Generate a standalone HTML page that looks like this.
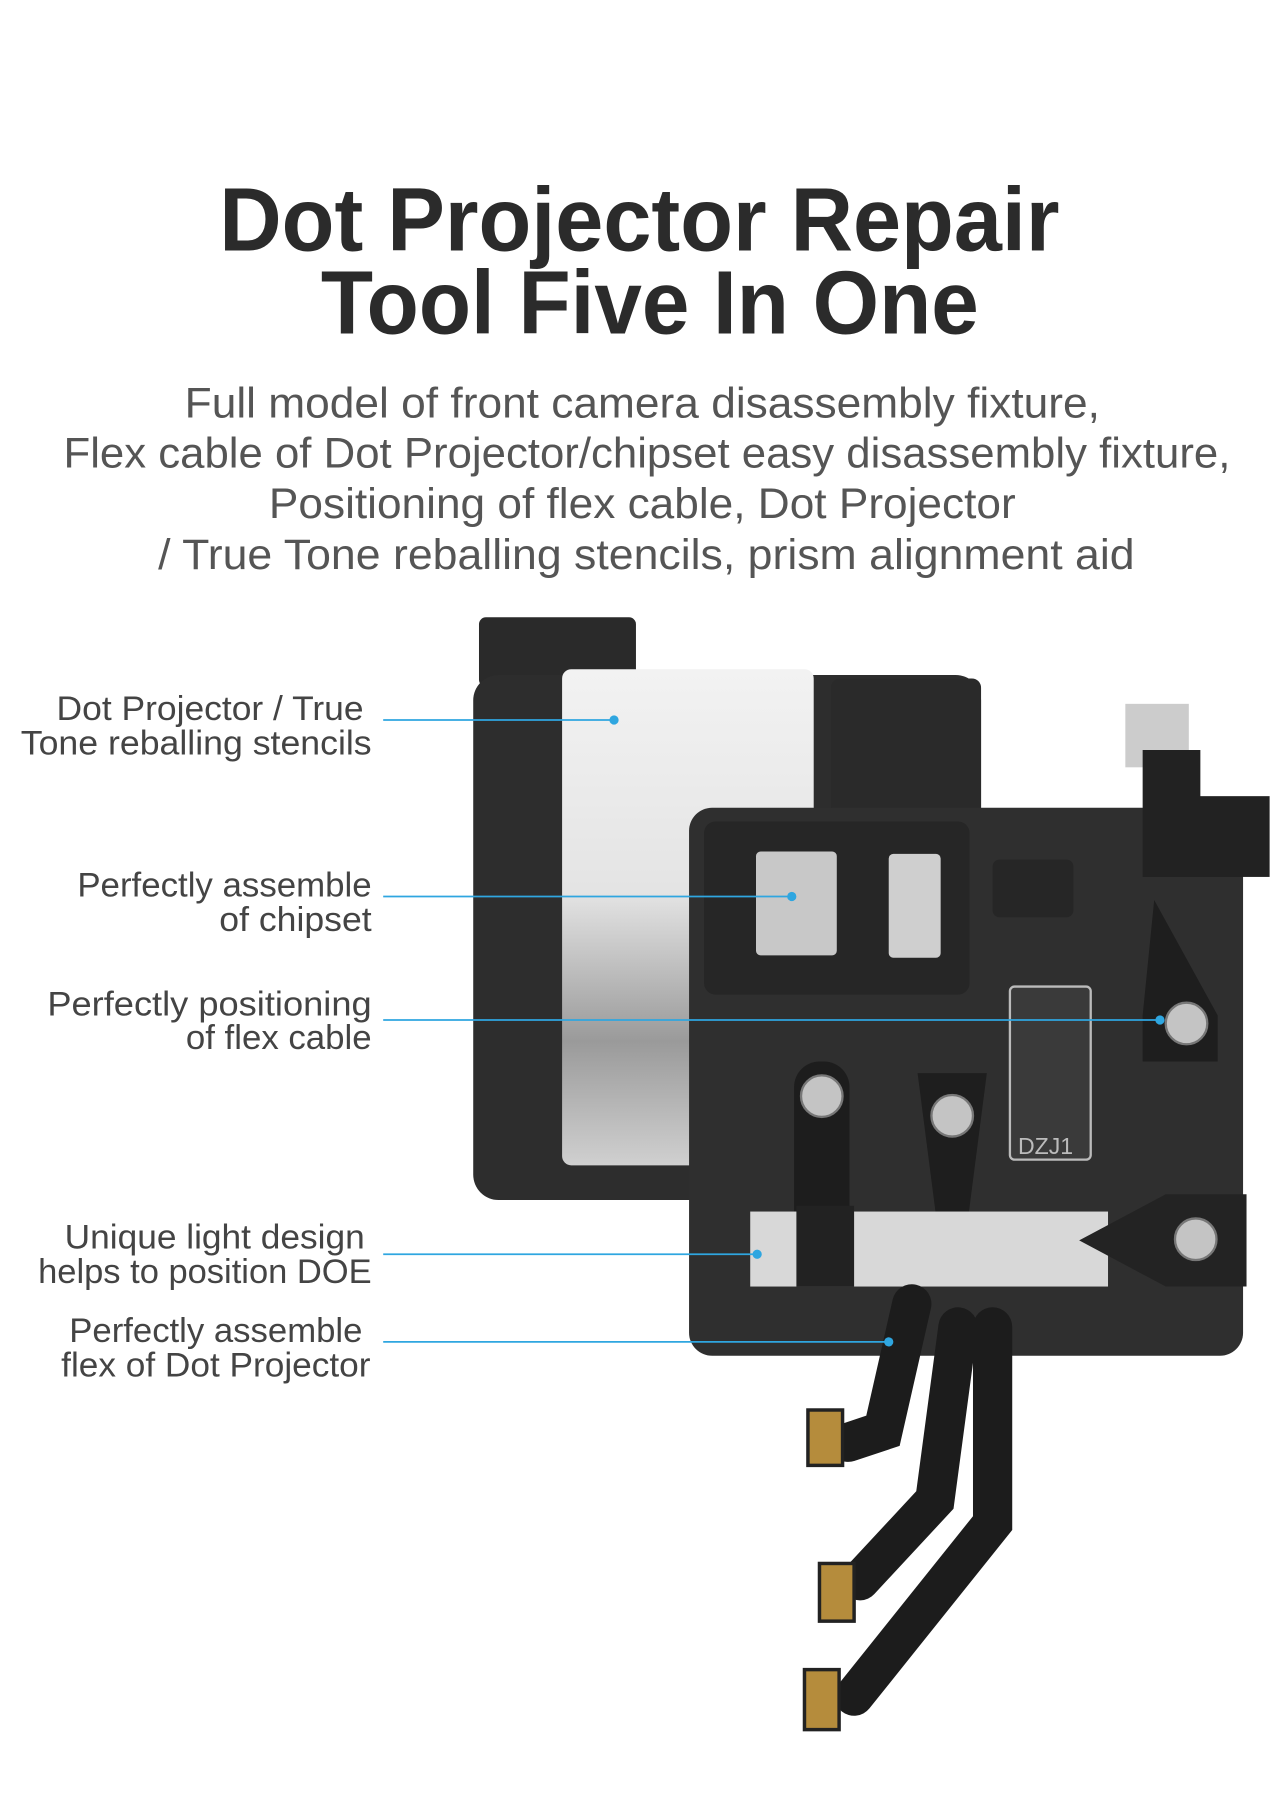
<!DOCTYPE html>
<html><head><meta charset="utf-8"><style>
html,body{margin:0;padding:0;background:#fff;}
svg{display:block;}
text{font-family:"Liberation Sans",sans-serif;}
</style></head><body>
<svg width="1280" height="1800" viewBox="0 0 1109 1560" preserveAspectRatio="none" xmlns="http://www.w3.org/2000/svg">
<defs>
<linearGradient id="st" x1="0" y1="0" x2="0" y2="1">
<stop offset="0" stop-color="#f2f2f2"/><stop offset="0.45" stop-color="#e4e4e4"/><stop offset="0.75" stop-color="#9a9a9a"/><stop offset="1" stop-color="#d0d0d0"/>
</linearGradient>
</defs>
<text x="190" y="217" font-size="78" font-weight="bold" fill="#2b2b2b" textLength="728" lengthAdjust="spacingAndGlyphs">Dot Projector Repair</text>
<text x="278" y="289" font-size="78" font-weight="bold" fill="#2b2b2b" textLength="570" lengthAdjust="spacingAndGlyphs">Tool Five In One</text>
<g font-size="37" fill="#555">
<text x="160" y="362" textLength="793" lengthAdjust="spacingAndGlyphs">Full model of front camera disassembly fixture,</text>
<text x="55" y="405" textLength="1011" lengthAdjust="spacingAndGlyphs">Flex cable of Dot Projector/chipset easy disassembly fixture,</text>
<text x="233" y="449" textLength="647" lengthAdjust="spacingAndGlyphs">Positioning of flex cable, Dot Projector</text>
<text x="137" y="493" textLength="846" lengthAdjust="spacingAndGlyphs">/ True Tone reballing stencils, prism alignment aid</text>
</g>
<rect x="415" y="535" width="136" height="60" rx="6" fill="#2a2a2a"/>
<rect x="410" y="585" width="440" height="455" rx="22" fill="#2d2d2d"/>
<rect x="487" y="580" width="218" height="430" rx="8" fill="url(#st)"/>
<rect x="720" y="588" width="130" height="130" rx="8" fill="#2a2a2a"/>
<rect x="597" y="700" width="480" height="475" rx="20" fill="#2f2f2f"/>
<rect x="610" y="712" width="230" height="150" rx="10" fill="#262626"/>
<rect x="655" y="738" width="70" height="90" rx="4" fill="#c8c8c8"/>
<rect x="770" y="740" width="45" height="90" rx="4" fill="#cfcfcf"/>
<rect x="860" y="745" width="70" height="50" rx="6" fill="#262626"/>
<rect x="875" y="855" width="70" height="150" rx="4" fill="#3a3a3a" stroke="#bbb" stroke-width="2"/>
<text x="882" y="1000" font-size="20" fill="#bbb">DZJ1</text>
<rect x="975" y="610" width="55" height="55" fill="#ccc"/>
<rect x="990" y="650" width="50" height="110" fill="#222"/>
<rect x="1030" y="690" width="70" height="70" fill="#222"/>
<path d="M1000 780 L1055 880 L1055 920 L990 920 L990 880 Z" fill="#1e1e1e"/>
<rect x="688" y="920" width="48" height="190" rx="22" fill="#1d1d1d"/>
<path d="M795 930 L855 930 L835 1085 L815 1085 Z" fill="#1e1e1e"/>
<rect x="650" y="1050" width="310" height="65" fill="#d8d8d8"/>
<rect x="690" y="1045" width="50" height="70" fill="#222"/>
<path d="M935 1075 L1010 1035 L1080 1035 L1080 1115 L1010 1115 Z" fill="#232323"/>
<g fill="#c4c4c4" stroke="#777" stroke-width="2">
<circle cx="1028" cy="887" r="18"/><circle cx="712" cy="950" r="18"/><circle cx="825" cy="967" r="18"/><circle cx="1036" cy="1074" r="18"/>
</g>
<g fill="none" stroke="#1c1c1c" stroke-width="34" stroke-linecap="round">
<path d="M790 1130 L765 1240 L735 1250"/>
<path d="M830 1150 L810 1300 L745 1370"/>
<path d="M860 1150 L860 1320 L740 1470"/>
</g>
<g fill="#b58c3c" stroke="#222" stroke-width="3">
<rect x="700" y="1222" width="30" height="48"/><rect x="710" y="1355" width="30" height="50"/><rect x="697" y="1447" width="30" height="52"/>
</g>
<g stroke="#2fa6e0" stroke-width="1.5">
<line x1="332" y1="624" x2="532" y2="624"/>
<line x1="332" y1="777" x2="686" y2="777"/>
<line x1="332" y1="884" x2="1005" y2="884"/>
<line x1="332" y1="1087" x2="656" y2="1087"/>
<line x1="332" y1="1163" x2="770" y2="1163"/>
</g>
<g fill="#2fa6e0">
<circle cx="532" cy="624" r="4"/><circle cx="686" cy="777" r="4"/><circle cx="1005" cy="884" r="4"/><circle cx="656" cy="1087" r="4"/><circle cx="770" cy="1163" r="4"/>
</g>
<g font-size="30" fill="#444">
<text x="49" y="624" textLength="266" lengthAdjust="spacingAndGlyphs">Dot Projector / True</text>
<text x="18" y="654" textLength="304" lengthAdjust="spacingAndGlyphs">Tone reballing stencils</text>
<text x="67" y="777" textLength="255" lengthAdjust="spacingAndGlyphs">Perfectly assemble</text>
<text x="190" y="807" textLength="132" lengthAdjust="spacingAndGlyphs">of chipset</text>
<text x="41" y="880" textLength="281" lengthAdjust="spacingAndGlyphs">Perfectly positioning</text>
<text x="161" y="909" textLength="161" lengthAdjust="spacingAndGlyphs">of flex cable</text>
<text x="56" y="1082" textLength="260" lengthAdjust="spacingAndGlyphs">Unique light design</text>
<text x="33" y="1112" textLength="289" lengthAdjust="spacingAndGlyphs">helps to position DOE</text>
<text x="60" y="1163" textLength="254" lengthAdjust="spacingAndGlyphs">Perfectly assemble</text>
<text x="53" y="1193" textLength="268" lengthAdjust="spacingAndGlyphs">flex of Dot Projector</text>
</g>
</svg>
</body></html>
